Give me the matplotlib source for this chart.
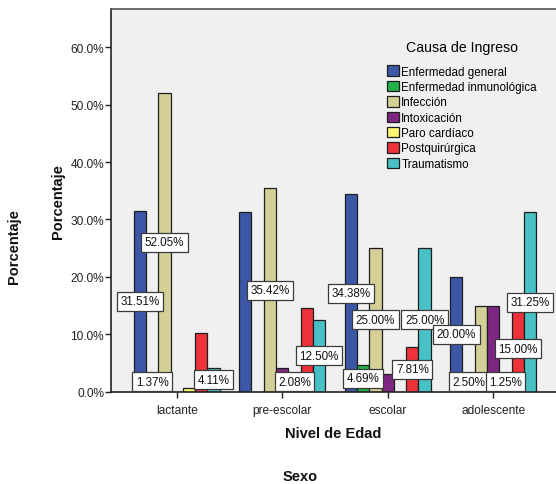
import matplotlib
matplotlib.use("Agg")
import matplotlib.pyplot as plt
import numpy as np
from matplotlib.patches import Patch

plt.rcParams['font.family'] = ['Liberation Sans', 'DejaVu Sans']

# Age groups on the x axis
niveles = ["lactante", "pre-escolar", "escolar", "adolescente"]

# Cause of admission (legend series)
causas = ["Enfermedad general", "Enfermedad inmunológica", "Infección",
          "Intoxicación", "Paro cardíaco", "Postquirúrgica", "Traumatismo"]

# Percentages per cause, one value per age group
enfermedad_general = [31.51, 31.25, 34.38, 20.00]
enfermedad_inmunologica = [1.37, 0.0, 4.69, 2.50]
infeccion = [52.05, 35.42, 25.00, 15.00]
intoxicacion = [0.0, 4.17, 3.13, 15.00]
paro_cardiaco = [0.6, 2.08, 0.0, 1.25]
postquirurgica = [10.2, 14.58, 7.81, 15.00]
traumatismo = [4.11, 12.50, 25.00, 31.25]

series = [enfermedad_general, enfermedad_inmunologica, infeccion,
          intoxicacion, paro_cardiaco, postquirurgica, traumatismo]

# Which series get a value label in each age group
etiquetas_visibles = [[0, 1, 2, 6], [2, 4, 6], [0, 1, 2, 5, 6], [0, 1, 4, 5, 6]]

y_ticks = [0, 10, 20, 30, 40, 50, 60]

colores = ["#3C57A8", "#22B04B", "#D4CF97", "#7D2783",
           "#FBF66E", "#EE3239", "#47C1C5"]

W, H = 556, 485
fig = plt.figure(figsize=(W / 100, H / 100), dpi=100)
fig.patch.set_facecolor("white")

left, right, top, bottom = 111, 556, 10, 392.7
ax = fig.add_axes([left / W, (H - bottom) / H, (right - left) / W, (bottom - top) / H])
ax.set_facecolor("#F0F0F0")

ancho = 0.1166
x = np.arange(len(niveles))
n = len(series)
for i, (vals, col) in enumerate(zip(series, colores)):
    ax.bar(x + (i - (n - 1) / 2) * ancho, vals, width=ancho, color=col,
           edgecolor="#1E1E1E", linewidth=0.9, zorder=2)

# Value labels in white boxes, centred on the bar
for g, visibles in enumerate(etiquetas_visibles):
    for i in visibles:
        v = series[i][g]
        xp = x[g] + (i - (n - 1) / 2) * ancho
        yp = max(v / 2, 1.7)
        ax.text(xp, yp, f"{v:.2f}%", ha="center", va="center", fontsize=8.4,
                color="#111111", zorder=5,
                bbox=dict(boxstyle="square,pad=0.3", fc="white",
                          ec="#3A3A3A", lw=0.9))

ax.set_xlim(-0.623, 3.595)
ax.set_ylim(0, 66.67)
ax.set_yticks(y_ticks)
ax.set_yticklabels([f"{t:.1f}%" for t in y_ticks])
ax.set_xticks(x)
ax.set_xticklabels(niveles)
ax.tick_params(axis="both", labelsize=8.6, colors="#222222", length=4,
               width=1, direction="out")
ax.tick_params(axis="x", pad=5)
ax.tick_params(axis="y", pad=1)

for s in ["left", "bottom"]:
    ax.spines[s].set_color("#222222")
    ax.spines[s].set_linewidth(1.2)
ax.spines["top"].set_color("#555555")
ax.spines["top"].set_linewidth(1.2)
ax.spines["right"].set_visible(False)

ax.set_xlabel("Nivel de Edad", fontsize=10.5, fontweight="bold", labelpad=7,
              color="#111111")
ax.set_ylabel("Porcentaje", fontsize=10.5, fontweight="bold", labelpad=4,
              color="#111111")

fig.text(14.5 / W, 1 - 246.5 / H, "Porcentaje", rotation=90, ha="center",
         va="center", fontsize=10.5, fontweight="bold", color="#111111")
fig.text(300 / W, 1 - 477.3 / H, "Sexo", ha="center", va="center",
         fontsize=10.5, fontweight="bold", color="#111111")

handles = [Patch(facecolor=c, edgecolor="#1E1E1E", linewidth=0.9) for c in colores]
leg = ax.legend(handles, causas, title="Causa de Ingreso",
                loc="upper left", bbox_to_anchor=(385 / W, 1 - 39 / H),
                bbox_transform=fig.transFigure, frameon=False,
                fontsize=8.4, title_fontsize=10.2, handlelength=1.0,
                handleheight=1.0, handletextpad=0.2, labelspacing=0.27,
                borderpad=0.2, borderaxespad=0)
leg._legend_box.sep = 8

fig.savefig("out.png", dpi=100, facecolor="white")
